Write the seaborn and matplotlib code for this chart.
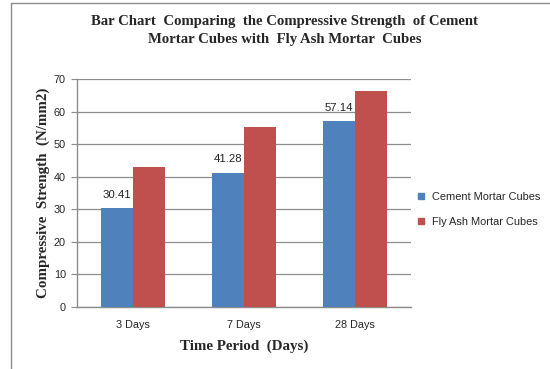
import matplotlib
matplotlib.use("Agg")
import matplotlib.pyplot as plt
import seaborn as sns
import pandas as pd
from matplotlib.lines import Line2D

# Chart values
periods = ["3 Days", "7 Days", "28 Days"]
cement = [30.41, 41.28, 57.14]
fly_ash = [43.0, 55.3, 66.2]
series_names = ["Cement Mortar Cubes", "Fly Ash Mortar Cubes"]
y_ticks = [0, 10, 20, 30, 40, 50, 60, 70]

df = pd.DataFrame({
    "period": periods * 2,
    "strength": cement + fly_ash,
    "series": [series_names[0]] * 3 + [series_names[1]] * 3,
})

sns.set_style("white")
plt.rcParams["font.family"] = ["Liberation Sans", "DejaVu Sans"]

fig = plt.figure(figsize=(5.5, 3.69), dpi=100)
ax = fig.add_axes([0.140, 0.168, 0.607, 0.618])

sns.barplot(data=df, x="period", y="strength", hue="series", order=periods,
            hue_order=series_names, palette=["#4F81BD", "#C0504D"],
            width=0.575, gap=0, saturation=1, errorbar=None, ax=ax,
            edgecolor="none", linewidth=0, zorder=3, legend=False)

ax.set_ylim(0, 70)
ax.set_yticks(y_ticks)
ax.set_xlim(-0.5, 2.5)
ax.yaxis.grid(True, color="#8c8c8c", linewidth=0.9, zorder=0)
ax.set_axisbelow(True)
for s in ["top", "right"]:
    ax.spines[s].set_visible(False)
for s in ["left", "bottom"]:
    ax.spines[s].set_color("#8c8c8c")
    ax.spines[s].set_linewidth(1.0)
ax.tick_params(axis="y", length=4, color="#8c8c8c", labelsize=7.8, pad=4,
               left=True, direction="out")
ax.tick_params(axis="x", length=0, labelsize=7.8, pad=9)

# data labels on the cement bars
for i, v in enumerate(cement):
    ax.annotate(f"{v:.2f}", (i - 0.144, v), xytext=(0, 6),
                textcoords="offset points", ha="center", va="bottom",
                fontsize=8.2, color="#222222")

serif = ["Liberation Serif", "DejaVu Serif"]
ax.set_xlabel("Time Period  (Days)", fontsize=10.8, fontweight="bold",
              family=serif, labelpad=7)
ax.set_ylabel("Compressive  Strength  (N/mm2)", fontsize=10.8, fontweight="bold",
              family=serif, labelpad=3)

fig.text(0.517, 0.942, "Bar Chart  Comparing  the Compressive Strength  of Cement",
         ha="center", va="center", fontsize=10.6, fontweight="bold", family=serif)
fig.text(0.517, 0.892, "Mortar Cubes with  Fly Ash Mortar  Cubes",
         ha="center", va="center", fontsize=10.6, fontweight="bold", family=serif)

handles = [Line2D([], [], marker="s", linestyle="none", markersize=5,
                  color=c) for c in ["#4F81BD", "#C0504D"]]
fig.legend(handles, series_names, loc="center left",
           bbox_to_anchor=(0.737, 0.432), frameon=False, fontsize=7.9,
           handletextpad=0.05, labelspacing=1.35, borderaxespad=0)

# outer frame lines
fig.add_artist(Line2D([11 / 550, 11 / 550], [0, 1 - 2.5 / 369],
                      color="#8c8c8c", linewidth=1.0))
fig.add_artist(Line2D([11 / 550, 1], [1 - 2.5 / 369, 1 - 2.5 / 369],
                      color="#8c8c8c", linewidth=1.0))

fig.savefig("out.png", dpi=100)
